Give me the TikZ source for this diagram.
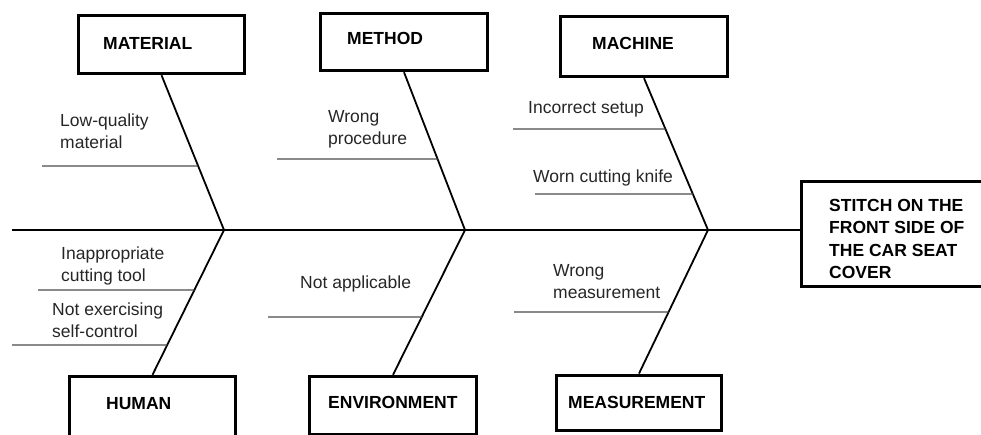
\documentclass[tikz,border=0pt]{standalone}
\usepackage{fontspec}
\setmainfont{Liberation Sans}
\begin{document}
\begin{tikzpicture}[x=1pt,y=-1pt,
  box/.style={draw, line width=3.4pt, rectangle, inner sep=0pt},
  head/.style={anchor=base west, inner sep=0pt, font=\fontsize{17.5}{22.5}\selectfont\bfseries, align=left},
  cause/.style={anchor=base west, inner sep=0pt, align=left, font=\fontsize{17.5}{22}\selectfont, text=black!85},
  bone/.style={line width=1.8pt},
  twig/.style={line width=1.1pt, black!70}]
\useasboundingbox (0,0) rectangle (981,434);

% boxes
\node[box, minimum width=166pt, minimum height=58pt] (mat) at (161.5,44.5) {};
\node[box, minimum width=167pt, minimum height=57pt] (met) at (404,42) {};
\node[box, minimum width=167pt, minimum height=60pt] (mac) at (644,46.5) {};
\node[box, minimum width=166pt, minimum height=63pt] (hum) at (152.5,408) {};
\node[box, minimum width=167pt, minimum height=58pt] (env) at (393,405.5) {};
\node[box, minimum width=165pt, minimum height=55.5pt] (mea) at (639,403) {};
\node[box, minimum width=193pt, minimum height=105pt] (eff) at (898,234) {};

% box titles (base anchor = baseline of last line)
\node[head] (matt) at (103,49) {MATERIAL};
\node[head] (mett) at (347,44) {METHOD};
\node[head] (mact) at (592,49) {MACHINE};
\node[head] (humt) at (106,409) {HUMAN};
\node[head] (envt) at (328,408) {ENVIRONMENT};
\node[head] (meat) at (568,408) {MEASUREMENT};
\node[head] (efft) at (829,278.5) {STITCH ON THE\\FRONT SIDE OF\\THE CAR SEAT\\COVER};

% spine and junctions
\coordinate (tail) at (12,230);
\coordinate (j1) at (224,230);
\coordinate (j2) at (465,230);
\coordinate (j3) at (708,230);
\draw[bone] (tail) -- (tail -| eff.west);

% bone end points
\coordinate (matb) at (mat.south);
\coordinate (metb) at (met.south);
\coordinate (macb) at (mac.south);
\coordinate (humb) at (hum.north);
\coordinate (envb) at (env.north);
\coordinate (meab) at (mea.north);

\draw[bone] (matb) -- (j1);
\draw[bone] (humb) -- (j1);
\draw[bone] (metb) -- (j2);
\draw[bone] (envb) -- (j2);
\draw[bone] (macb) -- (j3);
\draw[bone] (meab) -- (j3);

% twigs
\coordinate (t1) at (42,166);   \coordinate (t1r) at (400,166);
\coordinate (t2) at (277,159);  \coordinate (t2r) at (600,159);
\coordinate (t3) at (513,129);  \coordinate (t3r) at (900,129);
\coordinate (t4) at (535,194);  \coordinate (t4r) at (900,194);
\coordinate (t5) at (38,290);   \coordinate (t5r) at (400,290);
\coordinate (t6) at (12,345);   \coordinate (t6r) at (400,345);
\coordinate (t7) at (268,317);  \coordinate (t7r) at (600,317);
\coordinate (t8) at (514,312);  \coordinate (t8r) at (900,312);

\draw[twig] (t1) -- (intersection of t1--t1r and matb--j1);
\draw[twig] (t2) -- (intersection of t2--t2r and metb--j2);
\draw[twig] (t3) -- (intersection of t3--t3r and macb--j3);
\draw[twig] (t4) -- (intersection of t4--t4r and macb--j3);
\draw[twig] (t5) -- (intersection of t5--t5r and humb--j1);
\draw[twig] (t6) -- (intersection of t6--t6r and humb--j1);
\draw[twig] (t7) -- (intersection of t7--t7r and envb--j2);
\draw[twig] (t8) -- (intersection of t8--t8r and meab--j3);

% causes (base anchor = baseline of last line)
\node[cause] (c1) at (60,148) {Low-quality\\material};
\node[cause] (c2) at (328,144) {Wrong\\procedure};
\node[cause] (c3) at (528,113) {Incorrect setup};
\node[cause] (c4) at (533,182) {Worn cutting knife};
\node[cause] (c5) at (61,281) {Inappropriate\\cutting tool};
\node[cause] (c6) at (52,337) {Not exercising\\self-control};
\node[cause] (c7) at (300,288) {Not applicable};
\node[cause] (c8) at (553,298) {Wrong\\measurement};
\end{tikzpicture}
\end{document}
